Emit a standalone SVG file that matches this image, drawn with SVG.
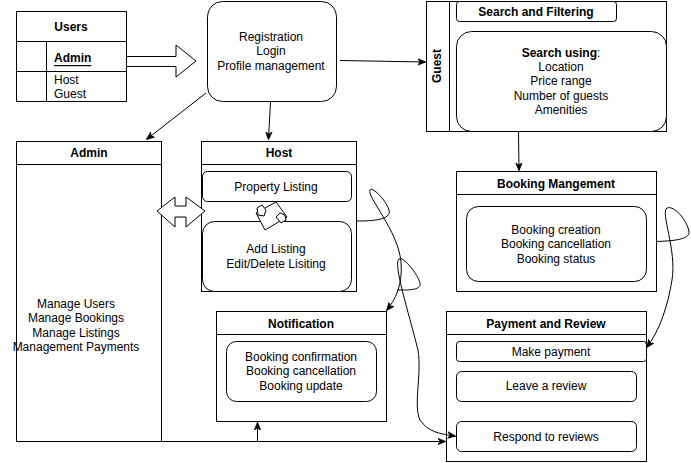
<svg xmlns="http://www.w3.org/2000/svg" width="691" height="463" viewBox="0 0 691 463">
<style>
text{font-family:"Liberation Sans",Arial,sans-serif;font-size:12px;fill:#000;text-anchor:middle;dominant-baseline:central}
text:not(.rot){transform:translateY(1px)}
.b{font-weight:bold}
.box{fill:#fff;stroke:#000;stroke-width:1}
.ln{fill:none;stroke:#000;stroke-width:1}
</style>
<defs>
<marker id="ah" viewBox="0 0 10 10" refX="9" refY="5" markerWidth="8" markerHeight="8" orient="auto" markerUnits="userSpaceOnUse">
<path d="M0,1 L10,5 L0,9 L3,5 Z" fill="#000" stroke="#000"/>
</marker>
</defs>
<rect width="691" height="463" fill="#fff"/>

<g id="users">
<rect class="box" x="16.5" y="11.5" width="110" height="90"/>
<line class="ln" x1="16.5" y1="41.5" x2="126.5" y2="41.5"/>
<line class="ln" x1="16.5" y1="71.5" x2="126.5" y2="71.5"/>
<line class="ln" x1="46.5" y1="41.5" x2="46.5" y2="101.5"/>
<text class="b" x="71" y="26">Users</text>
<text class="b" x="54" y="57" style="text-anchor:start;text-decoration:underline">Admin</text>
<text x="54" y="79" style="text-anchor:start">Host</text>
<text x="54" y="93" style="text-anchor:start">Guest</text>
</g>

<g id="registration">
<rect class="box" x="207.5" y="1.5" width="129" height="100" rx="15"/>
<text x="271" y="36">Registration</text>
<text x="271" y="50">Login</text>
<text x="271" y="65">Profile management</text>
</g>

<g id="guest">
<rect class="box" x="426.5" y="1.5" width="240" height="130"/>
<line class="ln" x1="449.5" y1="1.5" x2="449.5" y2="131.5"/>
<text class="b rot" x="437" y="66" transform="rotate(-90 437 66)">Guest</text>
<rect class="box" x="456.5" y="1.5" width="160" height="20" rx="3"/>
<text class="b" x="536" y="11">Search and Filtering</text>
<rect class="box" x="456.5" y="31.5" width="210" height="100" rx="15"/>
<text x="561" y="52"><tspan class="b">Search using</tspan>:</text>
<text x="561" y="66">Location</text>
<text x="561" y="80">Price range</text>
<text x="561" y="95">Number of guests</text>
<text x="561" y="109">Amenities</text>
</g>

<g id="admin">
<rect class="box" x="16.5" y="141.5" width="145" height="300"/>
<line class="ln" x1="16.5" y1="164.5" x2="161.5" y2="164.5"/>
<text class="b" x="89" y="152">Admin</text>
<text x="76" y="303">Manage Users</text>
<text x="76" y="317">Manage Bookings</text>
<text x="76" y="332">Manage Listings</text>
<text x="76" y="346">Management Payments</text>
</g>

<g id="host">
<rect class="box" x="201.5" y="141.5" width="155" height="150"/>
<line class="ln" x1="201.5" y1="164.5" x2="356.5" y2="164.5"/>
<text class="b" x="279" y="152">Host</text>
<rect class="box" x="202.5" y="171.5" width="149" height="30" rx="5"/>
<text x="276" y="186">Property Listing</text>
<rect class="box" x="202.5" y="221.5" width="149" height="70" rx="12"/>
<text x="276" y="248">Add Listing</text>
<text x="276" y="263">Edit/Delete Lisiting</text>
</g>

<g id="booking">
<rect class="box" x="456.5" y="171.5" width="200" height="120"/>
<line class="ln" x1="456.5" y1="194.5" x2="656.5" y2="194.5"/>
<text class="b" x="556" y="183">Booking Mangement</text>
<rect class="box" x="466.5" y="206.5" width="180" height="75" rx="12"/>
<text x="556" y="229">Booking creation</text>
<text x="556" y="243">Booking cancellation</text>
<text x="556" y="258">Booking status</text>
</g>

<g id="notification">
<rect class="box" x="216.5" y="311.5" width="170" height="110"/>
<line class="ln" x1="216.5" y1="334.5" x2="386.5" y2="334.5"/>
<text class="b" x="301" y="323">Notification</text>
<rect class="box" x="226.5" y="341.5" width="150" height="60" rx="10"/>
<text x="301" y="356">Booking confirmation</text>
<text x="301" y="370">Booking cancellation</text>
<text x="301" y="385">Booking update</text>
</g>

<g id="payment">
<rect class="box" x="446.5" y="311.5" width="200" height="150"/>
<line class="ln" x1="446.5" y1="334.5" x2="646.5" y2="334.5"/>
<text class="b" x="546" y="323">Payment and Review</text>
<rect class="box" x="456.5" y="341.5" width="190" height="20" rx="3"/>
<text x="551" y="351">Make payment</text>
<rect class="box" x="456.5" y="371.5" width="180" height="30" rx="5"/>
<text x="546" y="385">Leave a review</text>
<rect class="box" x="456.5" y="421.5" width="180" height="30" rx="5"/>
<text x="546" y="436">Respond to reviews</text>
</g>

<g id="connectors">
<path class="box" d="M127,56.5 L176,56.5 L176,45 L196,61 L176,77 L176,66.5 L127,66.5"/>
<path class="box" d="M157,211 L175,197 L175,206 L186,206 L186,197 L205,211 L186,227 L186,217 L175,217 L175,227 Z"/>
<polygon class="box" points="276,202 287,217 265,230 256,213"/>
<polygon class="box" points="257,208 262,205 266,210 264,216 258,215"/>
<polygon class="box" points="276,217 280,213 285,215 286,220 281,223"/>
<line class="ln" x1="340" y1="60.5" x2="425" y2="62" marker-end="url(#ah)"/>
<line class="ln" x1="206" y1="93" x2="147" y2="139" stroke="#666" marker-end="url(#ah)"/>
<line class="ln" x1="270.5" y1="102" x2="268.5" y2="139" marker-end="url(#ah)"/>
<line class="ln" x1="518.5" y1="132" x2="519" y2="170" marker-end="url(#ah)"/>
<path class="ln" d="M357,221 C372,221 392,220 389,210 C386,200 372,186 370,190 C366,196 398,230 401,262 C403,285 395,300 387,310" marker-end="url(#ah)"/>
<path class="ln" d="M397,290 C405,290 422,291 420,283 C418,275 404,256 399,259 C393,264 408,310 418,350 C422,375 413,405 420,420 C428,432 440,434 455,436" marker-end="url(#ah)"/>
<path class="ln" d="M657,241.5 C670,241 690,240 689,232 C688,222 675,205 667,208 C660,212 677,250 672,280 C668,305 660,330 647,347" marker-end="url(#ah)"/>
<line class="ln" x1="16" y1="441.5" x2="445" y2="441.5" marker-end="url(#ah)"/>
<line class="ln" x1="257.5" y1="441.5" x2="257.5" y2="423" marker-end="url(#ah)"/>
</g>
</svg>
